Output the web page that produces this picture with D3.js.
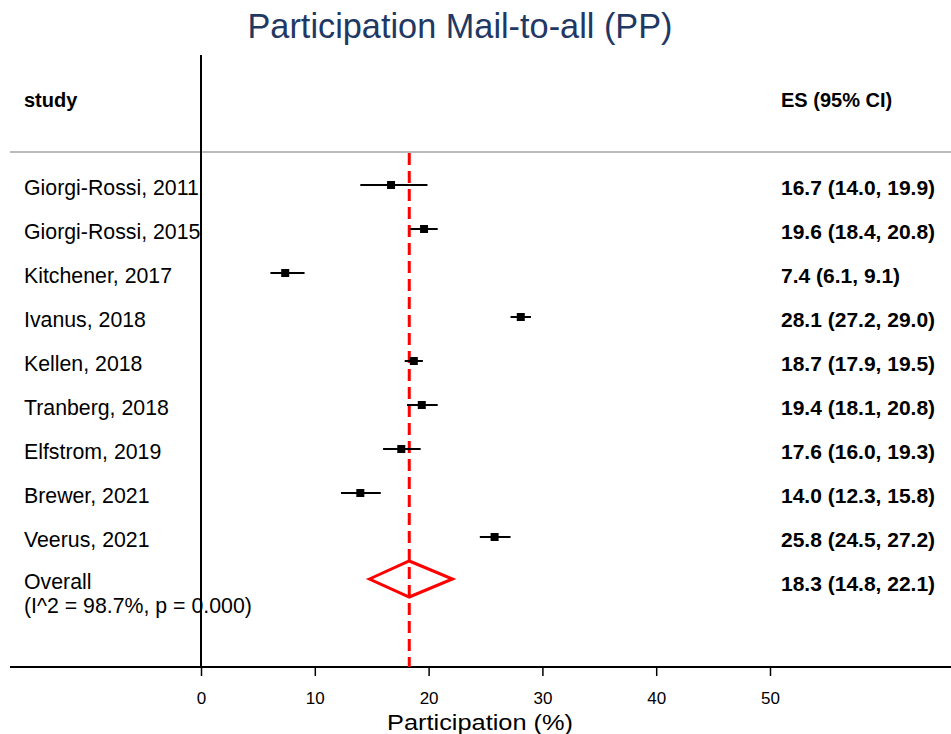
<!DOCTYPE html>
<html>
<head>
<meta charset="utf-8">
<script src="https://cdn.jsdelivr.net/npm/d3@7"></script>
<style>
  body { margin: 0; background: #fff; }
  svg { display: block; }
  text { font-family: "Liberation Sans", Arial, sans-serif; }
</style>
</head>
<body>
<script>
// study rows
const studies = ["Giorgi-Rossi, 2011", "Giorgi-Rossi, 2015", "Kitchener, 2017", "Ivanus, 2018",
  "Kellen, 2018", "Tranberg, 2018", "Elfstrom, 2019", "Brewer, 2021", "Veerus, 2021"];
const es = [16.7, 19.6, 7.4, 28.1, 18.7, 19.4, 17.6, 14.0, 25.8];
const lo = [14.0, 18.4, 6.1, 27.2, 17.9, 18.1, 16.0, 12.3, 24.5];
const hi = [19.9, 20.8, 9.1, 29.0, 19.5, 20.8, 19.3, 15.8, 27.2];

// pooled estimate
const overall = {es: 18.3, lo: 14.8, hi: 22.1};
const hetText = "(I^2 = 98.7%, p = 0.000)";

const xTicks = [0, 10, 20, 30, 40, 50];

const width = 951, height = 734;

const svg = d3.select("body").append("svg")
   .attr("width", width)
   .attr("height", height);

const x = d3.scaleLinear().domain([0, 50]).range([201, 770]);
const y = d3.scaleBand().domain(d3.range(studies.length + 1)).range([163, 603]);
const yc = i => y(i) + y.bandwidth() / 2;

const fmt = d3.format(".1f");

// title
svg.append("text")
   .attr("x", 460).attr("y", 38)
   .attr("text-anchor", "middle")
   .attr("font-size", 35)
   .attr("textLength", 425).attr("lengthAdjust", "spacingAndGlyphs")
   .attr("fill", "#1f3864")
   .text("Participation Mail-to-all (PP)");

// headers
svg.append("text").attr("x", 24).attr("y", 107)
   .attr("font-size", 20).attr("font-weight", "bold").text("study");
svg.append("text").attr("x", 781).attr("y", 107)
   .attr("font-size", 20).attr("font-weight", "bold").text("ES (95% CI)");

// separator under header
svg.append("line")
   .attr("x1", 10).attr("x2", width).attr("y1", 152).attr("y2", 152)
   .attr("stroke", "#bbb").attr("stroke-width", 2);

// left vertical (null line at 0)
svg.append("line")
   .attr("x1", x(0)).attr("x2", x(0)).attr("y1", 55).attr("y2", 667)
   .attr("stroke", "#000").attr("stroke-width", 2);

// axis
svg.append("line")
   .attr("x1", 10).attr("x2", width).attr("y1", 667).attr("y2", 667)
   .attr("stroke", "#000").attr("stroke-width", 2);

const axis = svg.append("g")
   .attr("transform", "translate(0,667)")
   .call(d3.axisBottom(x).tickValues(xTicks).tickSize(9).tickPadding(0).tickSizeOuter(0));
axis.select(".domain").remove();
axis.attr("font-size", 17);
axis.selectAll(".tick line").attr("stroke-width", 1.5);
axis.selectAll(".tick text")
   .attr("y", 37).attr("dy", null)
   .attr("fill", "#000")
   .style("font-size", "17px")
   .style("font-family", "'Liberation Sans', Arial, sans-serif");

svg.append("text")
   .attr("x", 480).attr("y", 730)
   .attr("text-anchor", "middle")
   .attr("font-size", 22)
   .attr("textLength", 186).attr("lengthAdjust", "spacingAndGlyphs")
   .text("Participation (%)");

// study labels
svg.selectAll(".lab").data(studies).enter().append("text")
   .attr("class", "lab")
   .attr("x", 24).attr("y", (d, i) => yc(i) + 10)
   .attr("font-size", 21.3)
   .text(d => d);

svg.append("text").attr("x", 24).attr("y", yc(studies.length) + 8)
   .attr("font-size", 21.3).text("Overall");
svg.append("text").attr("x", 24).attr("y", yc(studies.length) + 32)
   .attr("font-size", 21.3).text(hetText);

// pooled dashed line
svg.append("line")
   .attr("x1", x(overall.es)).attr("x2", x(overall.es))
   .attr("y1", 153).attr("y2", 667)
   .attr("stroke", "#ff0000").attr("stroke-width", 3)
   .attr("stroke-dasharray", "12,6");

// CIs
svg.selectAll(".ci").data(studies).enter().append("line")
   .attr("class", "ci")
   .attr("x1", (d, i) => x(lo[i])).attr("x2", (d, i) => x(hi[i]))
   .attr("y1", (d, i) => yc(i)).attr("y2", (d, i) => yc(i))
   .attr("stroke", "#000").attr("stroke-width", 2);

svg.selectAll(".pt").data(studies).enter().append("rect")
   .attr("class", "pt")
   .attr("x", (d, i) => x(es[i]) - 4).attr("y", (d, i) => yc(i) - 4)
   .attr("width", 8).attr("height", 8)
   .attr("fill", "#000");

// diamond
const dy = yc(studies.length) - 2;
svg.append("path")
   .attr("d", d3.line()([[x(overall.lo), dy], [x(overall.es), dy - 18], [x(overall.hi), dy], [x(overall.es), dy + 18]]) + "Z")
   .attr("fill", "none").attr("stroke", "#ff0000").attr("stroke-width", 3);

// ES text
const esText = studies.map((d, i) => `${fmt(es[i])} (${fmt(lo[i])}, ${fmt(hi[i])})`);
esText.push(`${fmt(overall.es)} (${fmt(overall.lo)}, ${fmt(overall.hi)})`);
svg.selectAll(".es").data(esText).enter().append("text")
   .attr("class", "es")
   .attr("x", 781).attr("y", (d, i) => yc(i) + 10)
   .attr("font-size", 21).attr("font-weight", "bold")
   .text(d => d);
</script>
</body>
</html>
